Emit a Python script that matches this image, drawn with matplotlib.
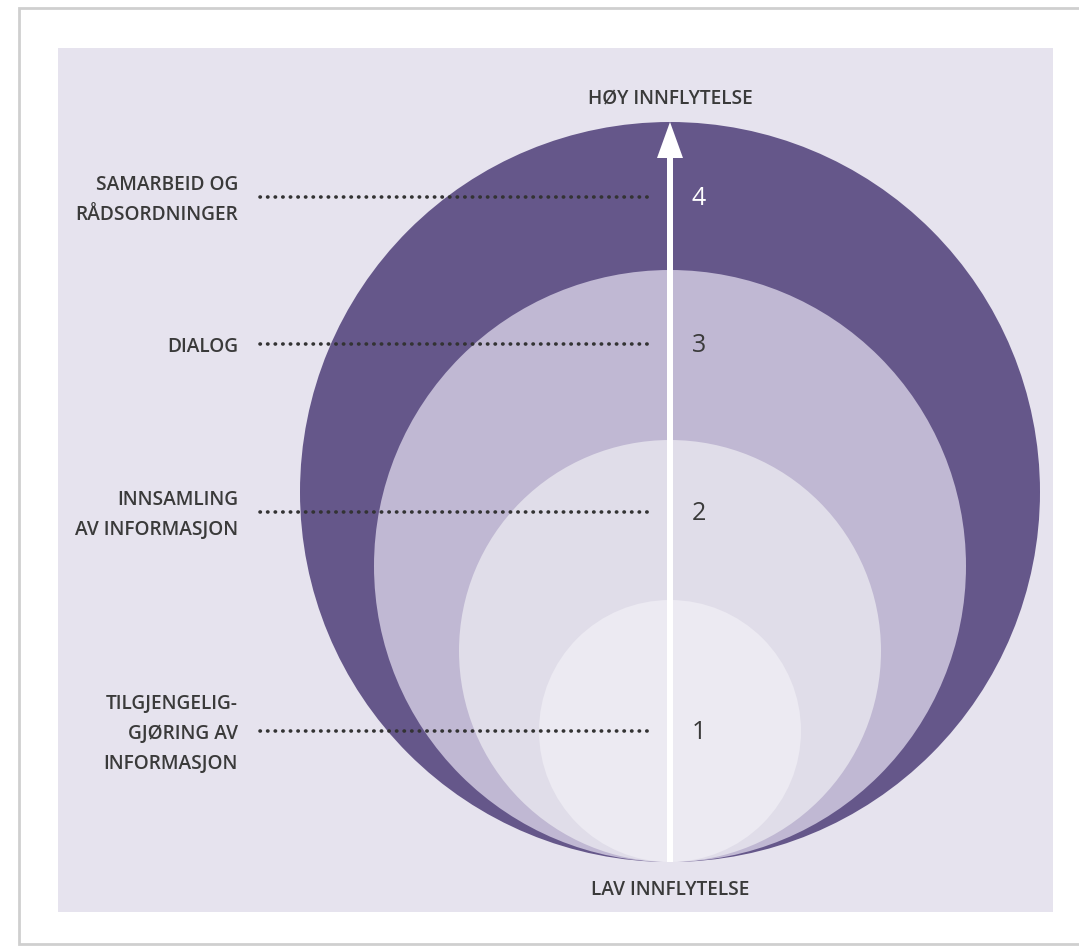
import matplotlib.pyplot as plt
from matplotlib.patches import Circle, Rectangle, FancyArrow

# Nivåer (1 = lavest innflytelse), radier i piksler, farger
nivaa = ["1", "2", "3", "4"]
radier = [131, 211, 296, 370]
farger = ["#ECEAF2", "#E0DDE9", "#C0B8D3", "#65578A"]
tall_farger = ["#3a3a3a", "#3a3a3a", "#3a3a3a", "white"]

etiketter = ["TILGJENGELIG-\nGJØRING AV\nINFORMASJON", "INNSAMLING\nAV INFORMASJON",
             "DIALOG", "SAMARBEID OG\nRÅDSORDNINGER"]
etikett_y = [731, 512, 344, 197]

W, H = 1079, 947
fig = plt.figure(figsize=(W / 100, H / 100), dpi=100)
ax = fig.add_axes([0, 0, 1, 1])
ax.set_xlim(0, W)
ax.set_ylim(H, 0)
ax.axis("off")

plt.rcParams['font.family'] = ['Open Sans', 'DejaVu Sans']
tekstfarge = "#3a3a3a"

# kortet med skygge og panelet
ax.add_patch(Rectangle((19, 8), 1070, 936, facecolor="white", edgecolor="#cfcfcf", lw=2))
ax.add_patch(Rectangle((58, 48), 995, 864, facecolor="#E6E3EE", edgecolor="none"))

cx, bunn = 670, 862
for r, f in sorted(zip(radier, farger), reverse=True):  # største sirkel først
    ax.add_patch(Circle((cx, bunn - r), r, facecolor=f, edgecolor="none"))

# pila
ax.add_patch(FancyArrow(cx, bunn, 0, -(radier[-1] * 2), width=6, head_width=26,
                        head_length=36, length_includes_head=True,
                        facecolor="white", edgecolor="none", zorder=3))

for tekst, y, n, tf in zip(etiketter, etikett_y, nivaa, tall_farger):
    ax.plot([260, 650], [y, y], color="#333333", lw=2.6, linestyle=(0, (0.1, 2.0)),
            dash_capstyle="round", zorder=4)
    ax.text(238, y + 3, tekst, ha="right", va="center", fontsize=13.8, color=tekstfarge,
            weight="semibold", linespacing=1.65)
    ax.text(699, y + 1, n, ha="center", va="center", fontsize=18, color=tf, zorder=5)

ax.text(cx, 99, "HØY INNFLYTELSE", ha="center", va="center", fontsize=13.8,
        color=tekstfarge, weight="semibold")
ax.text(cx, 890, "LAV INNFLYTELSE", ha="center", va="center", fontsize=13.8,
        color=tekstfarge, weight="semibold")

fig.savefig("out.png", dpi=100)
